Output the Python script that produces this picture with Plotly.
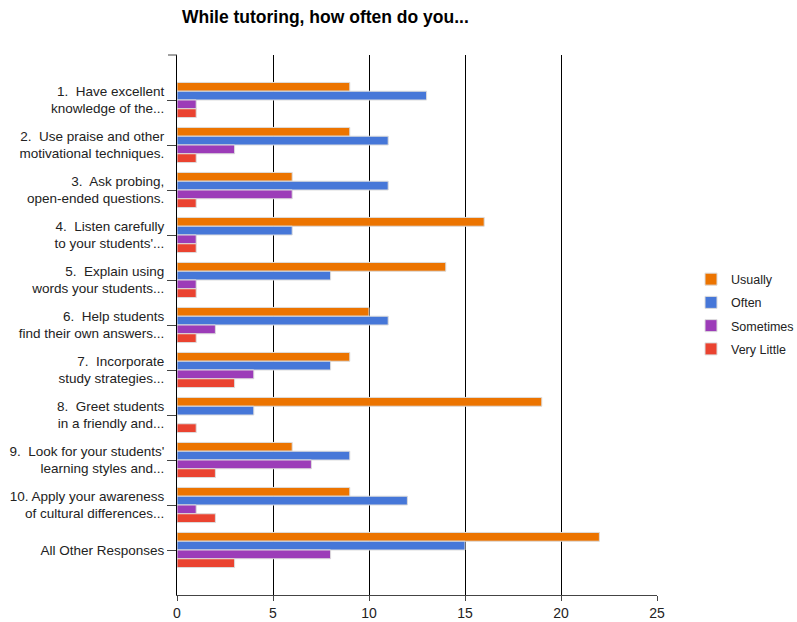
import plotly.graph_objects as go

categories = [
    "1.  Have excellent<br>knowledge of the...",
    "2.  Use praise and other<br>motivational techniques.",
    "3.  Ask probing,<br>open-ended questions.",
    "4.  Listen carefully<br>to your students'...",
    "5.  Explain using<br>words your students...",
    "6.  Help students<br>find their own answers...",
    "7.  Incorporate<br>study strategies...",
    "8.  Greet students<br>in a friendly and...",
    "9.  Look for your students'<br>learning styles and...",
    "10. Apply your awareness<br>of cultural differences...",
    "All Other Responses",
]
usually = [9, 9, 6, 16, 14, 10, 9, 19, 6, 9, 22]
often = [13, 11, 11, 6, 8, 11, 8, 4, 9, 12, 15]
sometimes = [1, 3, 6, 1, 1, 2, 4, 0, 7, 1, 8]
very_little = [1, 1, 1, 1, 1, 1, 3, 1, 2, 2, 3]

series = [
    ("Usually", usually, "#ec7400"),
    ("Often", often, "#4677d8"),
    ("Sometimes", sometimes, "#9c3cb8"),
    ("Very Little", very_little, "#ea4330"),
]

fig = go.Figure()
for name, vals, color in series:
    fig.add_trace(go.Bar(
        y=categories, x=vals, name=name, orientation="h", legendgroup=name,
        marker=dict(color=color, line=dict(color="#dcdcdc", width=1)),
    ))

L, R, T, B = 177, 657, 55, 595
fig.update_layout(
    width=797, height=622,
    margin=dict(l=L, r=797 - R, t=T, b=622 - B, autoexpand=False),
    paper_bgcolor="white", plot_bgcolor="white",
    barmode="group", bargap=0.22, bargroupgap=0,
    font=dict(family="Liberation Sans, Arial, sans-serif", size=13, color="#222222"),
    title=dict(text="<b>While tutoring, how often do you...</b>",
               x=182/797, xanchor="left", y=1-17/622, yanchor="middle",
               font=dict(size=17.5, color="black")),
    legend=dict(x=(691-L)/(R-L), xanchor="left", y=(B-314)/(B-T), yanchor="middle",
                traceorder="grouped", font=dict(size=12.5, color="#222222"),
                itemwidth=30, tracegroupgap=4),
    showlegend=True,
)
fig.update_xaxes(range=[0, 25], tick0=0, dtick=5, showgrid=True, gridcolor="black",
                 gridwidth=1, zeroline=False, showline=True, linecolor="#444444",
                 ticks="outside", ticklen=5, tickcolor="#444444",
                 tickfont=dict(size=14, color="#222222"))
fig.update_yaxes(categoryorder="array", categoryarray=categories, range=[11, -1],
                 showgrid=False, zeroline=False, showline=True, linecolor="black",
                 ticks="outside", ticklen=9, tickcolor="#444444",
                 tickfont=dict(size=13.5, color="#222222"))
fig.add_shape(type="line", xref="paper", yref="paper", x0=-9/(R-L), x1=0, y0=1, y1=1,
              line=dict(color="#444444", width=1))

fig.write_html("out.html")
